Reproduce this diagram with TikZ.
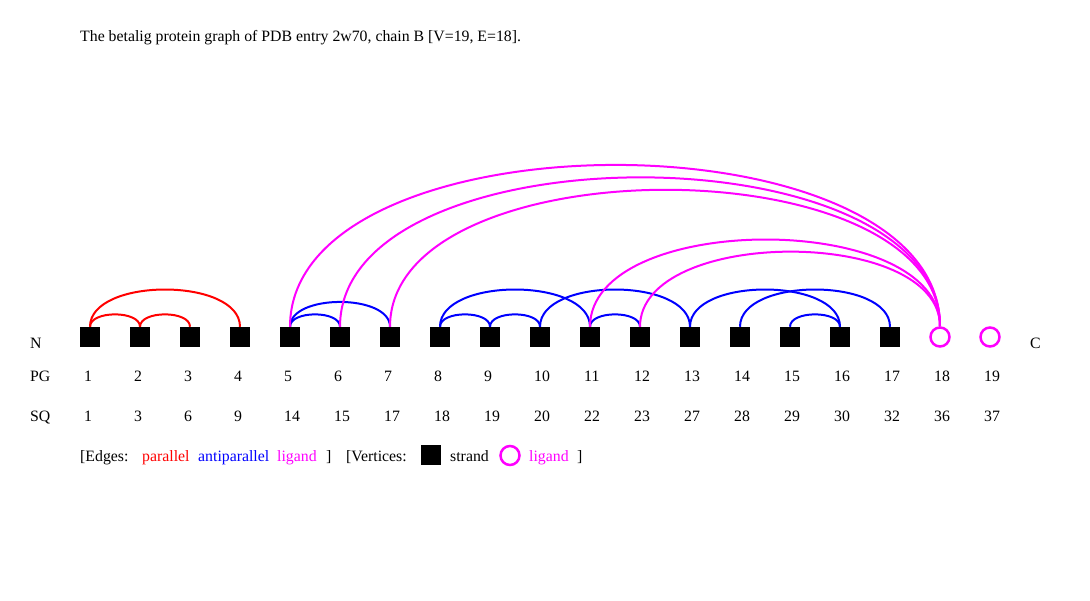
\documentclass[tikz,border=0pt]{standalone}
\usepackage{fontspec}
\setmainfont{Liberation Serif}
\usetikzlibrary{positioning}
\definecolor{PgRed}{HTML}{FF0000}
\definecolor{PgBlue}{HTML}{0000FF}
\definecolor{PgLig}{HTML}{FF00FF}

\begin{document}
\begin{tikzpicture}[x=1pt,y=1pt,
  font=\fontsize{15.8}{19}\selectfont,
  strand/.style={fill=black,minimum size=20pt,inner sep=0pt},
  ligvert/.style={circle,draw=PgLig,line width=2.5pt,minimum size=19pt,inner sep=0pt},
  arcedge/.style={line width=2pt,out=90,in=90,looseness=0.85},
  lbl/.style={anchor=base west,inner sep=0pt}]
  \useasboundingbox (0,0) rectangle (1090,600);
  \node[lbl] (title) at (80,558) {The betalig protein graph of PDB entry 2w70, chain B [V=19, E=18].};
  % vertices
  \foreach \i in {1,...,17}
    \node[strand] (v\i) at ({90+50*(\i-1)},263) {};
  \foreach \i in {18,19}
    \node[ligvert] (v\i) at ({90+50*(\i-1)},263) {};
  % edges
  \foreach \a/\b in {1/2,2/3,1/4}
    \draw[arcedge,PgRed] (v\a.north) to (v\b.north);
  \foreach \a/\b in {5/6,5/7,8/9,9/10,8/11,10/13,11/12,13/16,14/17,15/16}
    \draw[arcedge,PgBlue] (v\a.north) to (v\b.north);
  \foreach \a/\b in {5/18,6/18,7/18,11/18,12/18}
    \draw[arcedge,PgLig] (v\a.north) to (v\b.north);
  % row labels
  \node[lbl] (nterm) at (30,251) {N};
  \node[lbl] (cterm) at (1030,251) {C};
  \node[lbl] (pg) at (30,218) {PG};
  \node[lbl] (sq) at (30,178) {SQ};
  \foreach \i/\s in {1/1,2/3,3/6,4/9,5/14,6/15,7/17,8/18,9/19,10/20,
                     11/22,12/23,13/27,14/28,15/29,16/30,17/32,18/36,19/37} {
    \node[lbl] (pg\i) at ({84+50*(\i-1)},218) {\i};
    \node[lbl] (sq\i) at ({84+50*(\i-1)},178) {\s};
  }
  % legend
  \node[lbl] (edges) at (80,138) {[Edges:};
  \node[lbl,text=PgRed] (lpar) at (142,138) {parallel};
  \node[lbl,text=PgBlue] (lanti) at (198,138) {antiparallel};
  \node[lbl,text=PgLig] (llig) at (277,138) {ligand};
  \node[lbl] (eclose) at (326,138) {]};
  \node[lbl] (verts) at (346,138) {[Vertices:};
  \node[strand] (lstrand) at (431,144.5) {};
  \node[lbl] (lstrandtxt) at (450,138) {strand};
  \node[ligvert] (lligv) at (510,144.5) {};
  \node[lbl,text=PgLig] (lligtxt) at (529,138) {ligand};
  \node[lbl] (vclose) at (577,138) {]};
\end{tikzpicture}
\end{document}
